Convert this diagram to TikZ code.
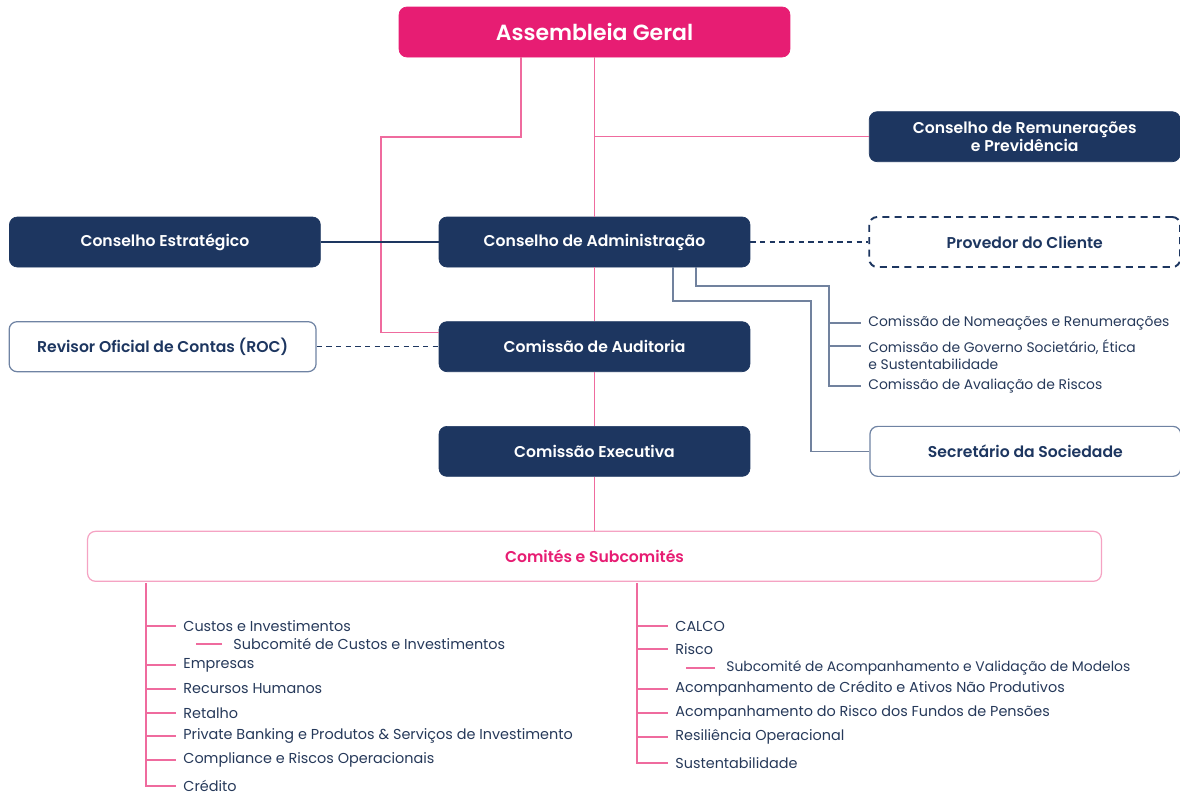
\documentclass[tikz,border=0pt]{standalone}
\usepackage{fontspec}
\setmainfont{Poppins}[BoldFont={Poppins SemiBold}]
\usetikzlibrary{positioning}

\definecolor{navy}{HTML}{1D3660}
\definecolor{ink}{HTML}{26395A}
\definecolor{rosa}{HTML}{E71D73}
\definecolor{rosaline}{HTML}{EF6B9E}
\definecolor{rosalight}{HTML}{F5A3C3}
\definecolor{greyline}{HTML}{71829E}
\definecolor{rocline}{HTML}{6F83A3}

\begin{document}
\begin{tikzpicture}[x=0.02cm, y=-0.02cm, node distance=1.08cm,
    darkbox/.style={draw=navy, fill=navy, text=white, rounded corners=4.5pt, minimum width=6.22cm, minimum height=1cm, inner sep=0pt, align=center, font=\fontsize{8.9}{10.5}\selectfont\bfseries},
    pinkbox/.style={darkbox, draw=rosa, fill=rosa, minimum width=7.82cm, font=\fontsize{12.5}{14}\selectfont\bfseries},
    lightbox/.style={darkbox, draw=rocline, fill=white, text=navy, line width=0.7pt},
    dashbox/.style={darkbox, fill=white, text=navy, line width=1.1pt, dash pattern=on 4pt off 3pt},
    groupbox/.style={darkbox, draw=rosalight, fill=white, text=rosa, minimum width=20.28cm, line width=0.7pt},
    listitem/.style={anchor=west, inner xsep=4pt, inner ysep=1pt, text=ink, font=\fontsize{8.2}{9.8}\selectfont},
    smallitem/.style={listitem, font=\fontsize{7.9}{9.6}\selectfont},
    pinkline/.style={draw=rosaline, line width=0.8pt},
    navyline/.style={draw=navy, line width=0.7pt},
    dashline/.style={draw=navy, line width=0.7pt, dash pattern=on 3pt off 2.5pt},
    greyconn/.style={draw=greyline, line width=0.8pt}]
    \useasboundingbox (0,0) rectangle (1180,796);

    \node[pinkbox] (ag) at (594.5,32) {Assembleia Geral};
    \node[darkbox] (ca) at (594.5,242) {Conselho de Administração};
    \node[darkbox, left=2.36cm of ca] (ce) {Conselho Estratégico};
    \node[dashbox, right=2.36cm of ca] (pc) {Provedor do Cliente};
    \node[darkbox, above=of pc] (crp) {Conselho de Remunerações\\e Previdência};
    \node[darkbox, below=of ca] (cau) {Comissão de Auditoria};
    \node[lightbox, minimum width=6.14cm, left=2.44cm of cau] (roc) {Revisor Oficial de Contas (ROC)};
    \node[darkbox, below=of cau] (cex) {Comissão Executiva};
    \node[lightbox, right=2.38cm of cex] (ss) {Secretário da Sociedade};
    \node[groupbox, below=of cex] (cs) {Comités e Subcomités};

    \node[smallitem] (cnr) at (861,323) {Comissão de Nomeações e Renumerações};
    \node[smallitem, align=left] (gov) at (861,355) {Comissão de Governo Societário, Ética\\e Sustentabilidade};
    \node[smallitem] (car) at (861,386) {Comissão de Avaliação de Riscos};

    \node[listitem] (ci) at (176,626) {Custos e Investimentos};
    \node[listitem] (sci) at (226,644) {Subcomité de Custos e Investimentos};
    \node[listitem] (emp) at (176,665) {Empresas};
    \node[listitem] (rh) at (176,689) {Recursos Humanos};
    \node[listitem] (ret) at (176,713) {Retalho};
    \node[listitem] (pb) at (176,736) {Private Banking e Produtos \& Serviços de Investimento};
    \node[listitem] (cro) at (176,760) {Compliance e Riscos Operacionais};
    \node[listitem] (cred) at (176,786) {Crédito};

    \node[listitem] (calco) at (668,626) {CALCO};
    \node[listitem] (risco) at (668,649) {Risco};
    \node[smallitem] (sav) at (719,668) {Subcomité de Acompanhamento e Validação de Modelos};
    \node[listitem] (acr) at (668,689) {Acompanhamento de Crédito e Ativos Não Produtivos};
    \node[listitem] (arf) at (668,713) {Acompanhamento do Risco dos Fundos de Pensões};
    \node[listitem] (ro) at (668,737) {Resiliência Operacional};
    \node[listitem] (sus) at (668,763) {Sustentabilidade};

    \draw[pinkline] (ag) -- (ca);
    \draw[pinkline] (ca) -- (cau);
    \draw[pinkline] (cau) -- (cex);
    \draw[pinkline] (cex) -- (cs);
    \draw[pinkline] (ag.south |- crp.west) -- (crp.west);
    \draw[pinkline] ([xshift=-1.47cm]ag.south) |- (381,137) |- ([yshift=0.28cm]cau.west);

    \draw[navyline] (ce) -- (ca);
    \draw[dashline] (ca) -- (pc);
    \draw[dashline] (roc) -- (cau);

    \draw[greyconn] ([xshift=1.57cm]ca.south) |- (811,301) |- (ss.west);
    \coordinate (cv) at (829,286);
    \coordinate (gt) at ([yshift=0.18cm]gov.west);
    \draw[greyconn] ([xshift=2.03cm]ca.south) |- (cv) |- (car.west);
    \draw[greyconn] (cnr.west -| cv) -- (cnr.west);
    \draw[greyconn] (gt -| cv) -- (gt);

    \coordinate (lv) at (146,583);
    \draw[pinkline] (lv) |- (cred.west);
    \draw[pinkline] (ci.west -| lv) -- (ci.west);
    \draw[pinkline] (emp.west -| lv) -- (emp.west);
    \draw[pinkline] (rh.west -| lv) -- (rh.west);
    \draw[pinkline] (ret.west -| lv) -- (ret.west);
    \draw[pinkline] (pb.west -| lv) -- (pb.west);
    \draw[pinkline] (cro.west -| lv) -- (cro.west);
    \draw[pinkline] ([xshift=-0.08cm]sci.west) -- +(-26,0);

    \coordinate (rv) at (637,583);
    \draw[pinkline] (rv) |- (sus.west);
    \draw[pinkline] (calco.west -| rv) -- (calco.west);
    \draw[pinkline] (risco.west -| rv) -- (risco.west);
    \draw[pinkline] (acr.west -| rv) -- (acr.west);
    \draw[pinkline] (arf.west -| rv) -- (arf.west);
    \draw[pinkline] (ro.west -| rv) -- (ro.west);
    \draw[pinkline] ([xshift=-0.08cm]sav.west) -- +(-29,0);
\end{tikzpicture}
\end{document}
